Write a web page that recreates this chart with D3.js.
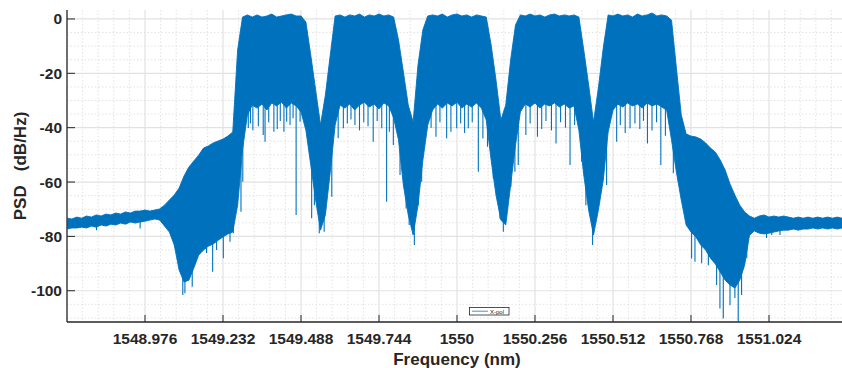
<!DOCTYPE html>
<html><head><meta charset="utf-8">
<script src="https://cdn.jsdelivr.net/npm/d3@7"></script>
<style>html,body{margin:0;padding:0;background:#fff;} svg{display:block;}</style>
</head><body>
<svg id="chart" width="842" height="368"></svg>
<script>
// ---- data ----
const freq = [
 1548.720,1548.736,1548.752,1548.768,1548.784,1548.800,1548.816,1548.832,1548.848,1548.864,1548.880,1548.896,1548.912,1548.928,1548.944,1548.960,
 1548.976,1548.992,1549.008,1549.024,1549.040,1549.056,1549.072,1549.088,1549.104,1549.120,1549.136,1549.152,1549.168,1549.184,1549.200,1549.216,
 1549.232,1549.248,1549.264,1549.280,1549.296,1549.312,1549.328,1549.344,1549.360,1549.376,1549.392,1549.408,1549.424,1549.440,1549.456,1549.472,
 1549.488,1549.504,1549.520,1549.536,1549.552,1549.568,1549.584,1549.600,1549.616,1549.632,1549.648,1549.664,1549.680,1549.696,1549.712,1549.728,
 1549.744,1549.760,1549.776,1549.792,1549.808,1549.824,1549.840,1549.856,1549.872,1549.888,1549.904,1549.920,1549.936,1549.952,1549.968,1549.984,
 1550.000,1550.016,1550.032,1550.048,1550.064,1550.080,1550.096,1550.112,1550.128,1550.144,1550.160,1550.176,1550.192,1550.208,1550.224,1550.240,
 1550.256,1550.272,1550.288,1550.304,1550.320,1550.336,1550.352,1550.368,1550.384,1550.400,1550.416,1550.432,1550.448,1550.464,1550.480,1550.496,
 1550.512,1550.528,1550.544,1550.560,1550.576,1550.592,1550.608,1550.624,1550.640,1550.656,1550.672,1550.688,1550.704,1550.720,1550.736,1550.752,
 1550.768,1550.784,1550.800,1550.816,1550.832,1550.848,1550.864,1550.880,1550.896,1550.912,1550.928,1550.944,1550.960,1550.976,1550.992,1551.008,
 1551.024,1551.040,1551.056,1551.072,1551.088,1551.104,1551.120,1551.136,1551.152,1551.168,1551.184,1551.200,1551.216,1551.232,1551.248,1551.264,
 1551.280];
// upper envelope of the X-pol PSD trace (dB/Hz)
const upper = [
 -73.3,-73.6,-72.9,-73.3,-72.5,-72.9,-72.1,-72.5,-71.8,-72.1,-71.4,-71.8,-71.0,-71.4,-70.7,-70.7,
 -70.3,-70.7,-70.3,-69.9,-68.5,-66.6,-64.8,-62.2,-57.8,-54.5,-52.3,-50.1,-47.5,-46.7,-45.6,-44.9,
 -44.2,-43.1,-41.6,-11.4,0.7,1.5,0.7,1.5,0.7,1.1,1.8,0.7,1.1,1.5,1.8,1.1,
 1.1,-1.1,-13.3,-26.1,-39.0,-28.0,-13.3,1.1,1.5,0.7,1.5,1.1,1.8,0.7,1.5,1.1,
 1.8,1.1,1.5,0.7,-7.7,-19.5,-31.7,-37.9,-16.9,-4.0,1.1,1.5,1.1,1.8,0.7,1.5,
 1.8,1.1,1.5,0.7,1.5,1.1,0.7,-9.6,-22.5,-37.2,-31.7,-15.1,-2.2,1.5,1.1,1.8,
 1.1,1.5,0.7,1.5,1.8,1.1,1.5,1.1,1.5,0.7,-11.4,-24.3,-37.9,-25.4,-10.7,1.5,
 1.1,1.8,1.1,1.5,0.7,1.8,1.1,1.5,2.2,1.1,1.5,1.1,-0.4,-18.0,-35.3,-42.3,
 -43.1,-43.4,-44.2,-45.6,-47.5,-49.0,-51.9,-55.6,-60.7,-64.8,-68.5,-71.0,-72.5,-73.3,-72.5,-72.1,
 -72.9,-72.5,-72.9,-72.5,-72.9,-73.3,-72.9,-73.3,-72.9,-73.3,-72.9,-73.3,-72.9,-73.3,-72.9,-73.3,
 -73.3];
// lower envelope of the dense body of the trace (dB/Hz)
const lower = [
 -77.3,-76.9,-76.9,-76.6,-76.9,-76.2,-76.6,-75.8,-76.2,-75.5,-75.8,-75.1,-75.5,-74.7,-75.1,-74.7,
 -74.4,-74.0,-73.6,-74.0,-76.2,-78.4,-83.2,-92.4,-96.8,-96.1,-91.7,-86.9,-85.0,-83.6,-82.8,-81.4,
 -80.2,-79.1,-78.4,-68.5,-48.2,-35.3,-31.7,-32.8,-31.3,-33.5,-30.9,-32.0,-30.6,-32.8,-30.9,-32.0,
 -34.2,-40.9,-53.7,-66.6,-77.7,-72.1,-56.3,-39.0,-31.7,-32.8,-31.3,-33.5,-31.7,-30.6,-32.4,-31.3,
 -33.1,-30.9,-32.0,-36.4,-44.5,-61.1,-72.1,-79.5,-68.5,-51.9,-39.0,-33.5,-31.3,-32.8,-30.9,-32.0,
 -30.6,-32.8,-31.3,-32.4,-30.9,-32.8,-37.2,-51.9,-64.8,-74.0,-75.8,-61.1,-46.4,-34.2,-31.3,-32.4,
 -30.9,-32.8,-31.3,-32.0,-30.9,-32.4,-31.3,-32.8,-32.0,-40.9,-57.4,-70.3,-79.5,-70.3,-59.3,-41.6,
 -33.5,-31.3,-32.4,-30.9,-32.0,-31.3,-32.8,-30.9,-32.0,-31.3,-32.4,-33.5,-44.5,-56.3,-66.6,-75.8,
 -78.4,-80.2,-83.2,-85.0,-88.0,-90.2,-93.1,-96.1,-97.9,-99.0,-96.1,-90.6,-79.5,-78.0,-78.8,-79.1,
 -78.8,-78.4,-78.0,-77.7,-77.7,-77.3,-77.7,-77.3,-77.3,-76.9,-77.3,-76.9,-77.3,-76.9,-77.3,-76.9,
 -76.9];
// downward needles below the body
const spikeFreq = [1548.817,1548.960,
 1549.085,1549.100,1549.107,1549.117,1549.131,1549.146,1549.178,1549.198,1549.211,1549.233,1549.255,1549.266,
 1549.291,1549.297,1549.315,1549.330,1549.364,1549.370,1549.399,1549.432,1549.441,1549.472,1549.485,1549.496,
 1549.523,1549.532,1549.548,1549.559,1549.564,1549.589,1549.610,1549.627,1549.665,1549.725,1549.753,1549.769,
 1549.791,1549.813,1549.833,1549.843,1549.860,1549.873,1549.884,1549.931,1549.966,1549.999,1550.037,1550.070,
 1550.119,1550.141,1550.152,1550.177,1550.190,1550.201,1550.226,1550.264,1550.325,1550.371,1550.409,1550.423,
 1550.437,1550.445,1550.464,1550.491,1550.524,1550.568,1550.625,1550.669,1550.710,1550.770,1550.781,1550.803,
 1550.825,1550.852,1550.863,1550.874,1550.896,1550.912,1550.923,1550.934,1550.951,1550.962,1551.016,1551.033,1551.060,
 1549.322,1549.348,1549.382,1549.410,1549.420,1549.452,1549.462,
 1549.640,1549.652,1549.680,1549.694,1549.708,1549.738,1549.778,
 1549.915,1549.944,1549.980,1550.012,1550.025,1550.050,1550.085,1550.100,
 1550.240,1550.278,1550.292,1550.310,1550.340,1550.356,1550.386,
 1550.536,1550.552,1550.584,1550.600,1550.612,1550.640,1550.655,1550.684];
const spikeMin = [-77.7,-77.1,
 -88.0,-101.6,-100.9,-96.1,-98.5,-86.1,-86.1,-93.0,-85.0,-88.0,-82.0,-78.8,
 -70.9,-59.9,-40.1,-40.9,-42.7,-45.2,-41.5,-41.5,-37.8,-72.1,-37.8,-35.3,
 -73.3,-68.5,-78.8,-74.6,-78.3,-65.4,-43.9,-40.2,-39.0,-45.2,-40.2,-67.3,
 -46.4,-57.4,-69.7,-75.8,-83.2,-68.5,-59.9,-43.3,-43.9,-40.2,-40.2,-56.2,
 -58.6,-73.4,-78.3,-61.7,-56.2,-53.7,-42.7,-43.3,-45.8,-53.7,-52.5,-68.5,
 -72.1,-83.2,-68.5,-61.1,-45.2,-40.2,-45.8,-53.7,-56.8,-88.1,-89.3,-89.9,
 -90.6,-97.9,-106.5,-110.2,-105.3,-102.7,-111.4,-101.6,-88.0,-79.5,-80.6,-79.5,-79.5,
 -38.5,-39.5,-38.0,-40.5,-37.5,-39.0,-36.5,
 -38.5,-37.0,-41.0,-38.0,-39.5,-37.5,-41.5,
 -40.0,-38.0,-41.5,-38.5,-42.0,-38.0,-44.0,-47.0,
 -38.5,-40.5,-37.5,-41.0,-38.0,-40.0,-39.0,
 -39.0,-42.0,-38.5,-40.5,-37.5,-41.0,-38.0,-43.0];
const xTicks = [1548.976,1549.232,1549.488,1549.744,1550,1550.256,1550.512,1550.768,1551.024];
const xTickLabels = ["1548.976","1549.232","1549.488","1549.744","1550","1550.256","1550.512","1550.768","1551.024"];
const yTicks = [-100,-80,-60,-40,-20,0];
const yTickLabels = ["-100","-80","-60","-40","-20","0"];
const seriesName = "X-pol";
const xTitle = "Frequency (nm)";
const yTitle = "PSD   (dB/Hz)";

// ---- drawing ----
const svg = d3.select("#chart");
const font = "'Liberation Sans', Arial, Helvetica, sans-serif";
const blue = "#0072BD";
const ink = "#262626";
const x = d3.scaleLinear().domain([1548.72, 1551.28]).range([67, 847]);
const y = d3.scaleLinear().domain([-111.5, 3.3]).range([322, 10]);
const [x0, x1] = [67, 842];
const [yT, yB] = [10, 322];

// minor grid
const minorX = d3.range(0, 51).map(i => 1548.72 + i * 0.0512).filter(v => v < 1551.28 && !xTicks.some(t => Math.abs(t - v) < 1e-6));
const minorY = d3.range(-110, 3.3, 5).filter(v => v % 20 !== 0);
const g = svg.append("g");
g.selectAll(".mx").data(minorX).enter().append("line")
  .attr("x1", d => x(d)).attr("x2", d => x(d)).attr("y1", yT).attr("y2", yB)
  .attr("stroke", "#dcdcdc").attr("stroke-width", 0.8).attr("stroke-dasharray", "1.5,2");
g.selectAll(".my").data(minorY).enter().append("line")
  .attr("x1", x0).attr("x2", x1).attr("y1", d => y(d)).attr("y2", d => y(d))
  .attr("stroke", "#dcdcdc").attr("stroke-width", 0.8).attr("stroke-dasharray", "1.5,2");
// major grid
g.selectAll(".gx").data(xTicks).enter().append("line")
  .attr("x1", d => x(d)).attr("x2", d => x(d)).attr("y1", yT).attr("y2", yB)
  .attr("stroke", "#e2e2e2").attr("stroke-width", 1.2);
g.selectAll(".gy").data(yTicks).enter().append("line")
  .attr("x1", x0).attr("x2", x1).attr("y1", d => y(d)).attr("y2", d => y(d))
  .attr("stroke", "#e2e2e2").attr("stroke-width", 1.2);

// clip
svg.append("defs").append("clipPath").attr("id", "clip")
  .append("rect").attr("x", x0).attr("y", yT).attr("width", x1 - x0).attr("height", yB - yT);

const pts = freq.map((f, i) => ({f, hi: upper[i], lo: lower[i]}));
const area = d3.area().x(d => x(d.f)).y0(d => y(d.lo)).y1(d => y(d.hi));
const plot = svg.append("g").attr("clip-path", "url(#clip)");
plot.append("path").datum(pts).attr("d", area)
  .attr("fill", blue).attr("stroke", blue).attr("stroke-width", 0.9).attr("stroke-linejoin", "round");

// spikes: from the body's lower edge (interpolated) down to the read minimum
const bis = d3.bisector(d => d).left;
function lowerAt(f) {
  let i = Math.max(1, Math.min(freq.length - 1, bis(freq, f)));
  const t = (f - freq[i - 1]) / (freq[i] - freq[i - 1]);
  return lower[i - 1] + t * (lower[i] - lower[i - 1]);
}
plot.selectAll(".sp").data(spikeFreq.map((f, i) => ({f, m: spikeMin[i]}))).enter().append("line")
  .attr("x1", d => x(d.f)).attr("x2", d => x(d.f))
  .attr("y1", d => y(lowerAt(d.f) + 2)).attr("y2", d => y(d.m))
  .attr("stroke", blue).attr("stroke-width", 1.1);

// axes
svg.append("line").attr("x1", x0).attr("x2", x0).attr("y1", yT).attr("y2", yB)
  .attr("stroke", "#404040").attr("stroke-width", 1.5);
svg.append("line").attr("x1", x0).attr("x2", x1).attr("y1", yB).attr("y2", yB)
  .attr("stroke", ink).attr("stroke-width", 1.5);
svg.selectAll(".ty").data(yTicks).enter().append("line")
  .attr("x1", x0).attr("x2", x0 + 8).attr("y1", d => y(d)).attr("y2", d => y(d))
  .attr("stroke", ink).attr("stroke-width", 1);
svg.selectAll(".tx").data(xTicks).enter().append("line")
  .attr("x1", d => x(d)).attr("x2", d => x(d)).attr("y1", yB).attr("y2", yB - 7)
  .attr("stroke", ink).attr("stroke-width", 1);

svg.selectAll(".ly").data(yTicks).enter().append("text")
  .attr("x", 62).attr("y", d => y(d) + 5.5).attr("text-anchor", "end")
  .attr("font-family", font).attr("font-weight", "bold").attr("font-size", 15.5).attr("fill", ink)
  .text((d, i) => yTickLabels[i]);
svg.selectAll(".lx").data(xTicks).enter().append("text")
  .attr("x", d => x(d)).attr("y", 344).attr("text-anchor", "middle")
  .attr("font-family", font).attr("font-weight", "bold").attr("font-size", 15.5).attr("fill", ink)
  .text((d, i) => xTickLabels[i]);

svg.append("text").attr("x", 457).attr("y", 365).attr("text-anchor", "middle")
  .attr("font-family", font).attr("font-weight", "bold").attr("font-size", 17).attr("fill", ink)
  .text(xTitle);
svg.append("text").attr("transform", "translate(26,166) rotate(-90)").attr("text-anchor", "middle")
  .attr("font-family", font).attr("font-weight", "bold").attr("font-size", 17).attr("fill", ink)
  .attr("xml:space", "preserve").style("white-space", "pre")
  .text(yTitle);

// legend
const lg = svg.append("g");
lg.append("rect").attr("x", 469.5).attr("y", 307.5).attr("width", 39.5).attr("height", 7.5)
  .attr("fill", "#fff").attr("stroke", ink).attr("stroke-width", 0.8);
lg.append("line").attr("x1", 472).attr("x2", 488).attr("y1", 311.2).attr("y2", 311.2)
  .attr("stroke", blue).attr("stroke-width", 1).attr("opacity", 0.75);
lg.append("text").attr("x", 490).attr("y", 313.5)
  .attr("font-family", font).attr("font-size", 6).attr("fill", ink).text(seriesName);
</script>
</body></html>
